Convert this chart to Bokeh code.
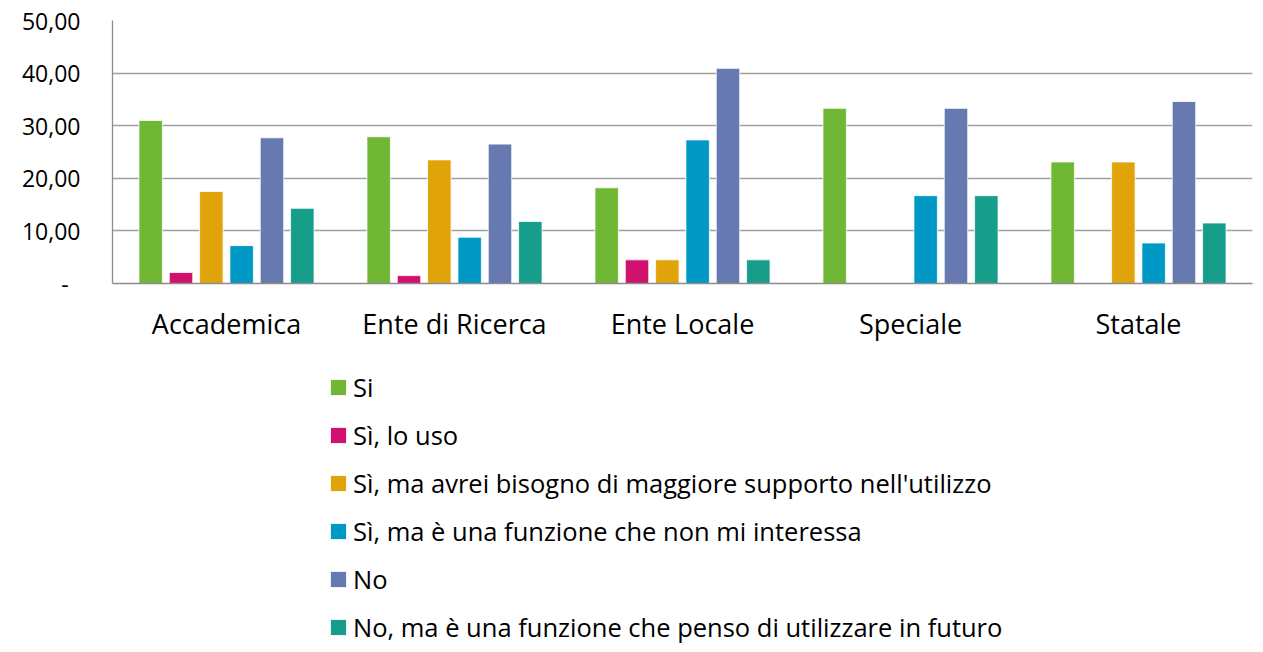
from bokeh.plotting import figure
from bokeh.layouts import column
from bokeh.models import ColumnDataSource, FactorRange, Range1d, FixedTicker, Legend, LegendItem
from bokeh.transform import dodge
from bokeh.embed import file_html
from bokeh.resources import INLINE

categories = ["Accademica", "Ente di Ricerca", "Ente Locale", "Speciale", "Statale"]
series_names = [
    "Si",
    "Sì, lo uso",
    "Sì, ma avrei bisogno di maggiore supporto nell'utilizzo",
    "Sì, ma è una funzione che non mi interessa",
    "No",
    "No, ma è una funzione che penso di utilizzare in futuro",
]
si = [31.0, 27.9, 18.2, 33.3, 23.1]
si_lo_uso = [2.1, 1.5, 4.5, 0.0, 0.0]
si_supporto = [17.5, 23.5, 4.5, 0.0, 23.1]
si_non_interessa = [7.2, 8.8, 27.3, 16.7, 7.7]
no = [27.7, 26.5, 40.9, 33.3, 34.6]
no_futuro = [14.3, 11.8, 4.5, 16.7, 11.5]
colors = ["#70B735", "#D0126E", "#E1A30A", "#0099C5", "#6679B1", "#169E8B"]
y_ticks = [0, 10, 20, 30, 40, 50]
y_tick_labels = ["-\u00a0\u00a0", "10,00", "20,00", "30,00", "40,00", "50,00"]

series_values = [si, si_lo_uso, si_supporto, si_non_interessa, no, no_futuro]
keys = ["s%d" % i for i in range(len(series_values))]
data = {"cat": categories}
for k, v in zip(keys, series_values):
    data[k] = v
source = ColumnDataSource(data)

W = 1255
H1 = 355
H2 = 289

p = figure(
    width=W, height=H1,
    x_range=FactorRange(*categories, range_padding=0),
    y_range=Range1d(0, 50),
    output_backend="svg", toolbar_location=None,
    min_border_left=112, min_border_right=3, min_border_top=20, min_border_bottom=72,
)
p.outline_line_color = None
p.background_fill_color = "white"

pitch = 0.133
bw = 0.103
for i, (k, c) in enumerate(zip(keys, colors)):
    p.vbar(x=dodge("cat", (i - 2.5) * pitch, range=p.x_range), top=k, width=bw,
           source=source, fill_color=c, line_color="white", line_width=0.8)

# axes
p.yaxis.ticker = FixedTicker(ticks=y_ticks)
p.yaxis.major_label_overrides = {t: l for t, l in zip(y_ticks, y_tick_labels)}
p.yaxis.major_tick_line_color = None
p.yaxis.minor_tick_line_color = None
p.yaxis.major_tick_out = 0
p.yaxis.major_tick_in = 0
p.yaxis.major_label_standoff = 32
p.yaxis.major_label_text_font = "Open Sans"
p.yaxis.major_label_text_font_size = "23px"
p.yaxis.major_label_text_color = "#000000"
p.yaxis.axis_line_color = "#8C8C8C"
p.yaxis.axis_line_width = 1.3

p.xaxis.major_tick_line_color = None
p.xaxis.minor_tick_line_color = None
p.xaxis.major_tick_out = 0
p.xaxis.major_tick_in = 0
p.xaxis.major_label_standoff = 21
p.xaxis.major_label_text_font = "Open Sans"
p.xaxis.major_label_text_font_size = "27px"
p.xaxis.major_label_text_color = "#000000"
p.xaxis.axis_line_color = "#8C8C8C"
p.xaxis.axis_line_width = 1.3

p.xgrid.grid_line_color = None
p.ygrid.grid_line_color = "#A0A0A0"
p.ygrid.grid_line_width = 1.3

# legend panel
q = figure(
    width=W, height=H2, x_range=Range1d(0, 1), y_range=Range1d(0, 1),
    output_backend="svg", toolbar_location=None,
    x_axis_location=None, y_axis_location=None,
    min_border_left=0, min_border_right=0, min_border_top=0, min_border_bottom=0,
)
q.outline_line_color = None
q.xgrid.grid_line_color = None
q.ygrid.grid_line_color = None
legend_renderers = []
for c in colors:
    # off-range swatch renderer, only used to style the legend entry
    legend_renderers.append(q.vbar(x=[-5], top=[0], width=0.1, fill_color=c,
                                   line_color="white", line_width=0.8))

legend = Legend(
    items=[LegendItem(label=n, renderers=[r]) for n, r in zip(series_names, legend_renderers)],
    location=(216, 0),
    orientation="vertical",
    padding=0, margin=0, border_line_color=None, background_fill_alpha=0,
    glyph_width=20, glyph_height=20, label_standoff=5, spacing=14,
    label_text_font="Open Sans", label_text_font_size="25.5px", label_text_color="#000000",
    label_height=26,
)
q.add_layout(legend, "center")

layout = column(p, q, spacing=0)
open("out.html", "w").write(file_html(layout, INLINE))
